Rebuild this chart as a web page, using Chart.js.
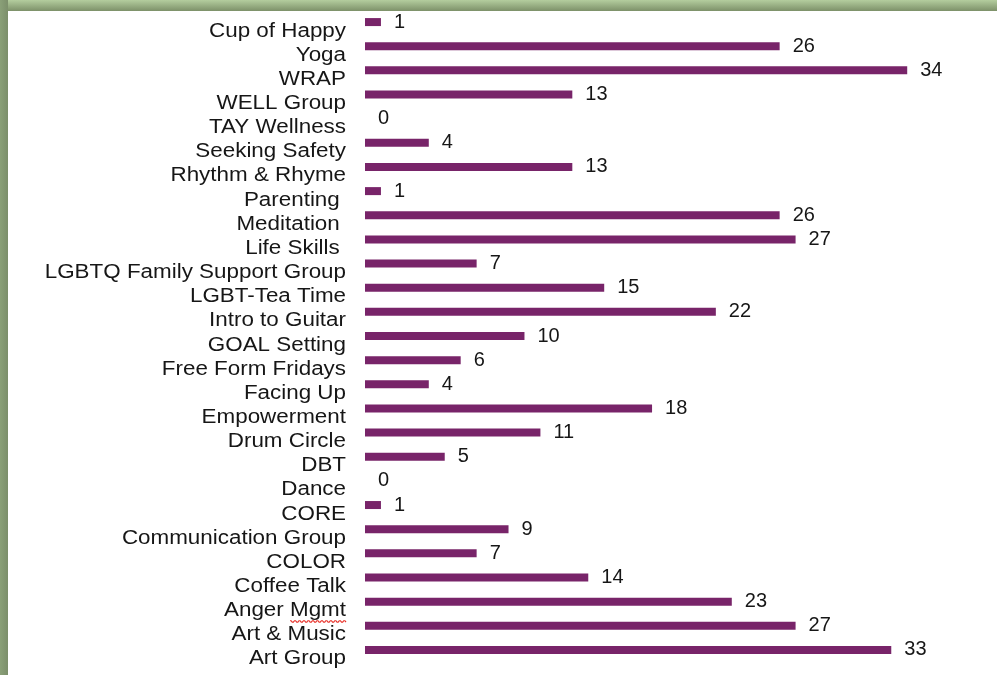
<!DOCTYPE html>
<html>
<head>
<meta charset="utf-8">
<script src="https://cdn.jsdelivr.net/npm/chart.js@4/dist/chart.umd.min.js"></script>
<style>
  html, body { margin: 0; padding: 0; }
  body { width: 997px; height: 675px; position: relative; overflow: hidden; background: #fff; }
  .frame-top { position: absolute; left: 0; top: 0; width: 997px; height: 11px;
    background: linear-gradient(#b4cd9e, #7d9169); }
  .frame-left { position: absolute; left: 0; top: 0; width: 8px; height: 675px;
    background: linear-gradient(90deg, #8aa078, #7c8f6b); }
  #wrap { position: absolute; left: 0; top: 0; width: 997px; height: 675px; }
</style>
</head>
<body>
<div class="frame-top"></div>
<div class="frame-left"></div>
<div id="wrap"><canvas id="chart"></canvas></div>
<script>
const categories = [
  'Cup of Happy', 'Yoga', 'WRAP', 'WELL Group', 'TAY Wellness', 'Seeking Safety',
  'Rhythm & Rhyme', 'Parenting ', 'Meditation ', 'Life Skills ', 'LGBTQ Family Support Group',
  'LGBT-Tea Time', 'Intro to Guitar', 'GOAL Setting', 'Free Form Fridays', 'Facing Up',
  'Empowerment', 'Drum Circle', 'DBT', 'Dance', 'CORE', 'Communication Group', 'COLOR',
  'Coffee Talk', 'Anger Mgmt', 'Art & Music', 'Art Group'
];
const attendance = [
  1, 26, 34, 13, 0, 4, 13, 1, 26, 27, 7, 15, 22, 10, 6, 4, 18, 11, 5, 0, 1, 9, 7, 14, 23, 27, 33
];

const FONT = '"Liberation Sans", Arial, sans-serif';

// value labels to the right of each bar
const valueLabels = {
  id: 'valueLabels',
  afterDatasetsDraw(chart) {
    const ctx = chart.ctx;
    const meta = chart.getDatasetMeta(0);
    ctx.save();
    ctx.font = '20px ' + FONT;
    ctx.fillStyle = '#161616';
    ctx.textAlign = 'left';
    ctx.textBaseline = 'middle';
    meta.data.forEach((bar, i) => {
      ctx.fillText(String(attendance[i]), bar.x + 13, bar.y);
    });
    ctx.restore();
  }
};

// category labels: slightly wide lettering, sitting a bit below each bar
const categoryLabels = {
  id: 'categoryLabels',
  afterDraw(chart) {
    const ctx = chart.ctx;
    const scale = chart.scales.y;
    ctx.save();
    ctx.font = '20px ' + FONT;
    ctx.fillStyle = '#161616';
    ctx.textAlign = 'right';
    ctx.textBaseline = 'middle';
    scale.ticks.forEach((t, i) => {
      const label = scale.getLabelForValue(t.value);
      const x = scale.right - 19;
      const y = scale.getPixelForTick(i) + 9;
      ctx.save();
      ctx.translate(x, y);
      ctx.scale(1.12, 1);
      ctx.fillText(label, 0, 0);
      if (label === 'Anger Mgmt') {
        // spell-check squiggle under "Mgmt"
        const w = ctx.measureText('Mgmt').width;
        ctx.strokeStyle = '#e8322a';
        ctx.lineWidth = 1;
        ctx.beginPath();
        for (let k = 0; k <= w; k += 1) {
          const yy = 10 + (Math.floor(k / 2) % 2 === 0 ? 0 : 1.5);
          if (k === 0) ctx.moveTo(-w + k, yy); else ctx.lineTo(-w + k, yy);
        }
        ctx.stroke();
      }
      ctx.restore();
    });
    ctx.restore();
  }
};

new Chart(document.getElementById('chart').getContext('2d'), {
  type: 'bar',
  data: {
    labels: categories,
    datasets: [{
      label: 'Attendance',
      data: attendance,
      backgroundColor: '#782469',
      barThickness: 8,
      inflateAmount: 0,
    }],
  },
  options: {
    indexAxis: 'y',
    responsive: true,
    maintainAspectRatio: false,
    animation: false,
    layout: { padding: { top: 10, bottom: 13, left: 0, right: 26 } },
    plugins: {
      legend: { display: false },
      tooltip: { enabled: false },
    },
    scales: {
      x: {
        display: false,
        min: 0,
        max: 38,
      },
      y: {
        afterFit: (scale) => {
          scale.width = 365;
          scale.paddingTop = 0;
          scale.paddingBottom = 0;
        },
        grid: { display: false, drawTicks: false },
        border: { display: false },
        ticks: {
          padding: 19,
          color: 'rgba(0,0,0,0)',
          font: { family: FONT, size: 20 },
          autoSkip: false,
        },
      },
    },
  },
  plugins: [valueLabels, categoryLabels],
});
</script>
</body>
</html>
